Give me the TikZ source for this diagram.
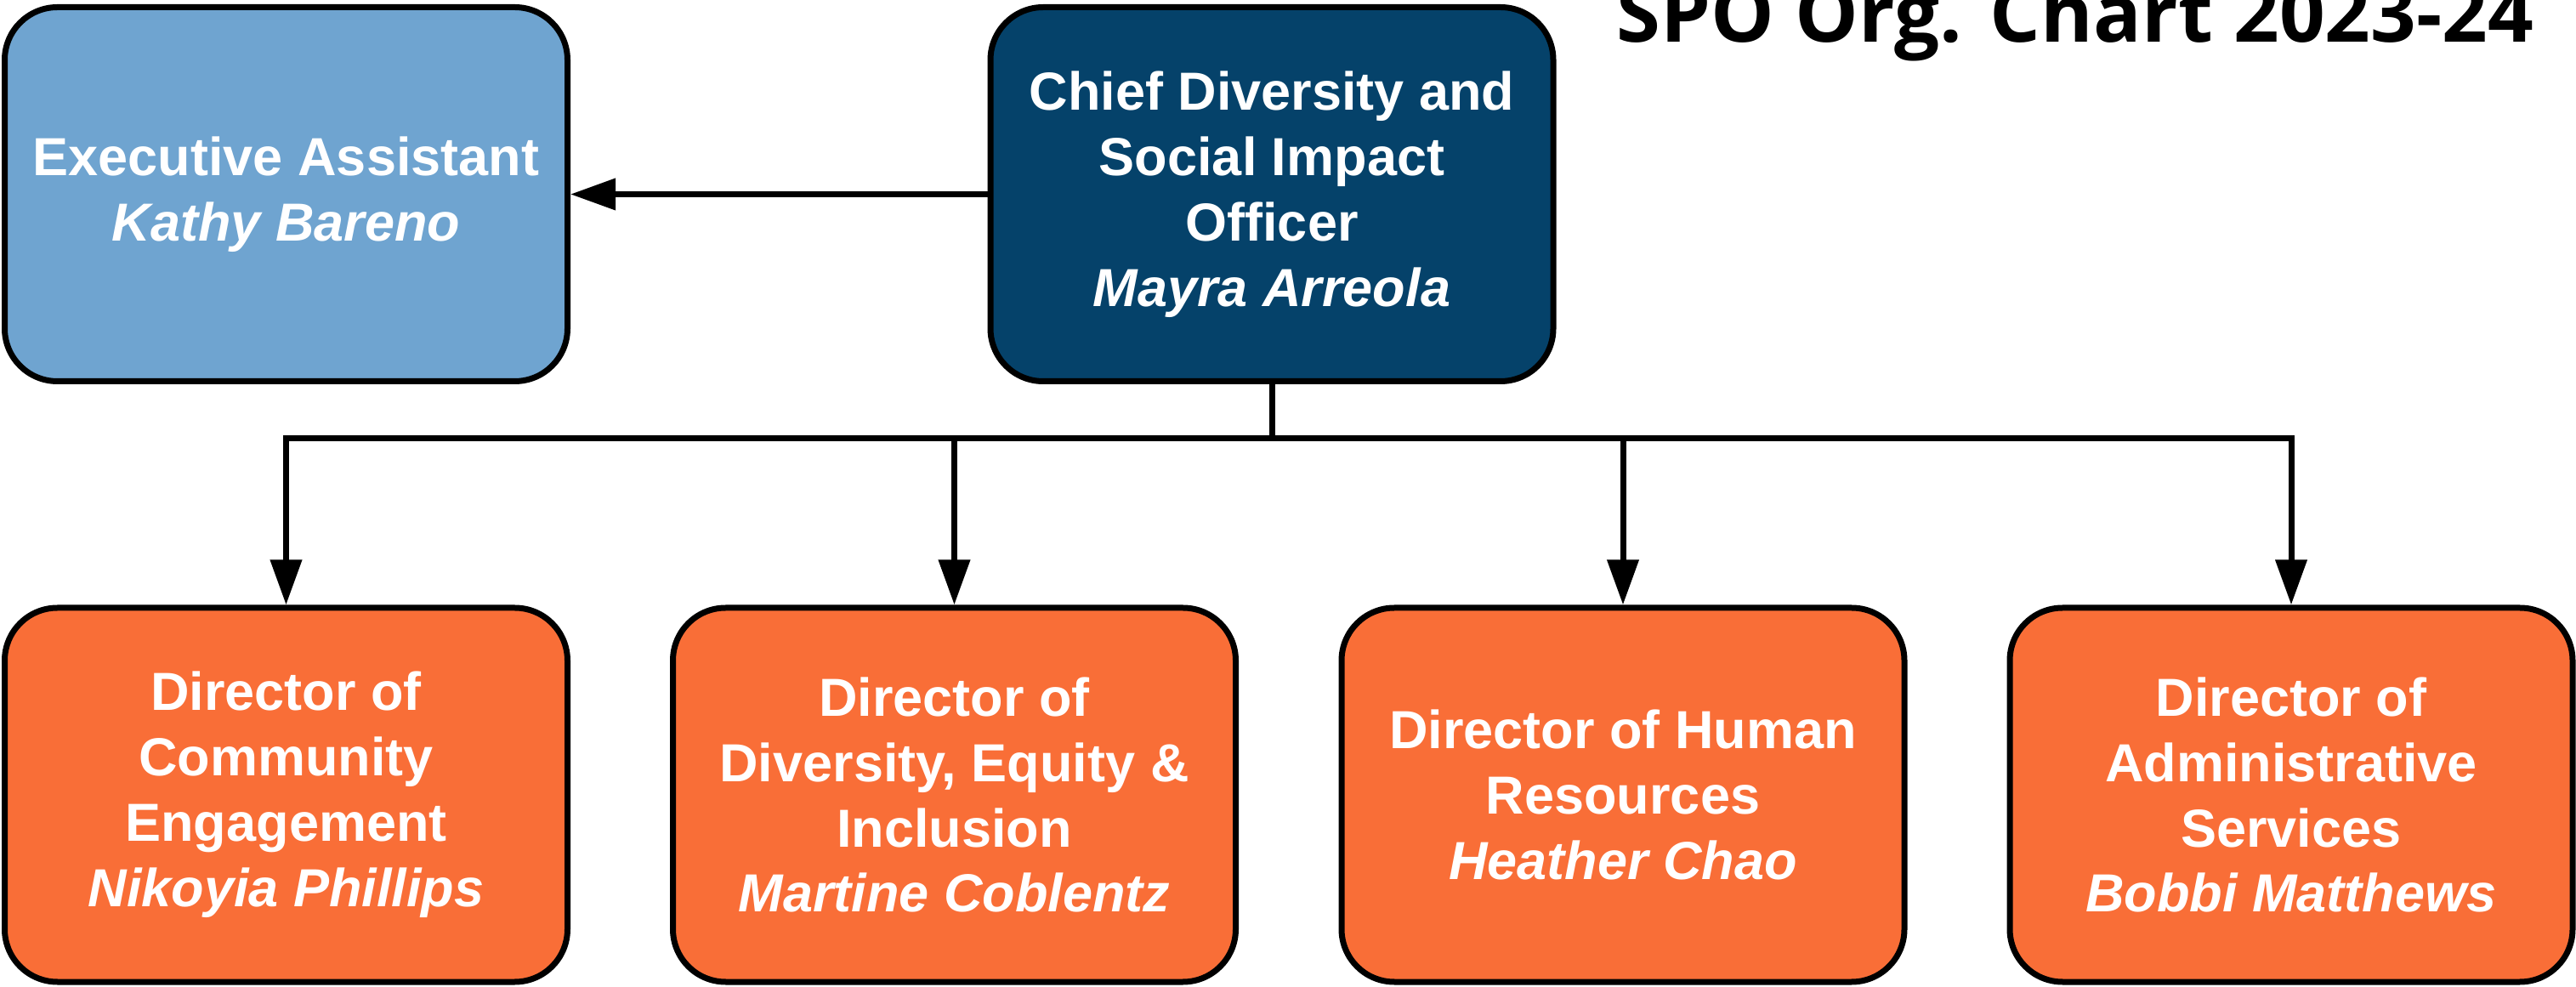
\documentclass[tikz,border=0pt]{standalone}
\usepackage{fontspec}
\setmainfont{Liberation Sans}
\newfontfamily\headfont{Open Sans}
\usetikzlibrary{arrows.meta}
\definecolor{eablue}{HTML}{6FA4D0}
\definecolor{chiefnavy}{HTML}{05426A}
\definecolor{dirorange}{HTML}{F96E37}

\begin{document}
\begin{tikzpicture}[
    orgbox/.style={draw=black, line width=0.07cm, rounded corners=0.62cm, minimum width=6.62cm, minimum height=4.40cm, inner sep=0pt, text=white, align=center, font={\fontsize{17.93pt}{21.9pt}\selectfont\bfseries}},
    conn/.style={line width=0.07cm, -{Triangle[length=0.53cm,width=0.36cm]}}
  ]
\useasboundingbox (0,0) rectangle (30.30,11.60);
\node[anchor=base east, font={\headfont\bfseries\fontsize{26.75pt}{32pt}\selectfont}] (title) at (29.92,11.10) {SPO Org. Chart 2023-24};
\node[orgbox, fill=eablue] (assist) at (3.365,9.315) {Executive Assistant\\ \textit{Kathy Bareno}};
\node[orgbox, fill=chiefnavy] (chief) at (14.96,9.315) {Chief Diversity and\\ Social Impact\\ Officer\\ \textit{Mayra Arreola}};
\node[orgbox, fill=dirorange] (commeng) at (3.365,2.25) {Director of\\ Community\\ Engagement\\ \textit{Nikoyia Phillips}};
\node[orgbox, fill=dirorange] (dei) at (11.225,2.25) {Director of\\ Diversity, Equity \&\\ Inclusion\\ \textit{Martine Coblentz}};
\node[orgbox, fill=dirorange] (hr) at (19.09,2.25) {Director of Human\\ Resources\\ \textit{Heather Chao}};
\node[orgbox, fill=dirorange] (admin) at (26.95,2.25) {Director of\\ Administrative\\ Services\\ \textit{Bobbi Matthews}};
\coordinate (bus) at (14.96,6.445);
\draw[conn] (chief.west) -- (assist.east);
\foreach \d in {commeng,dei,hr,admin}
  \draw[conn] (chief.south) |- (bus -| \d.north) -- (\d.north);
\end{tikzpicture}
\end{document}
